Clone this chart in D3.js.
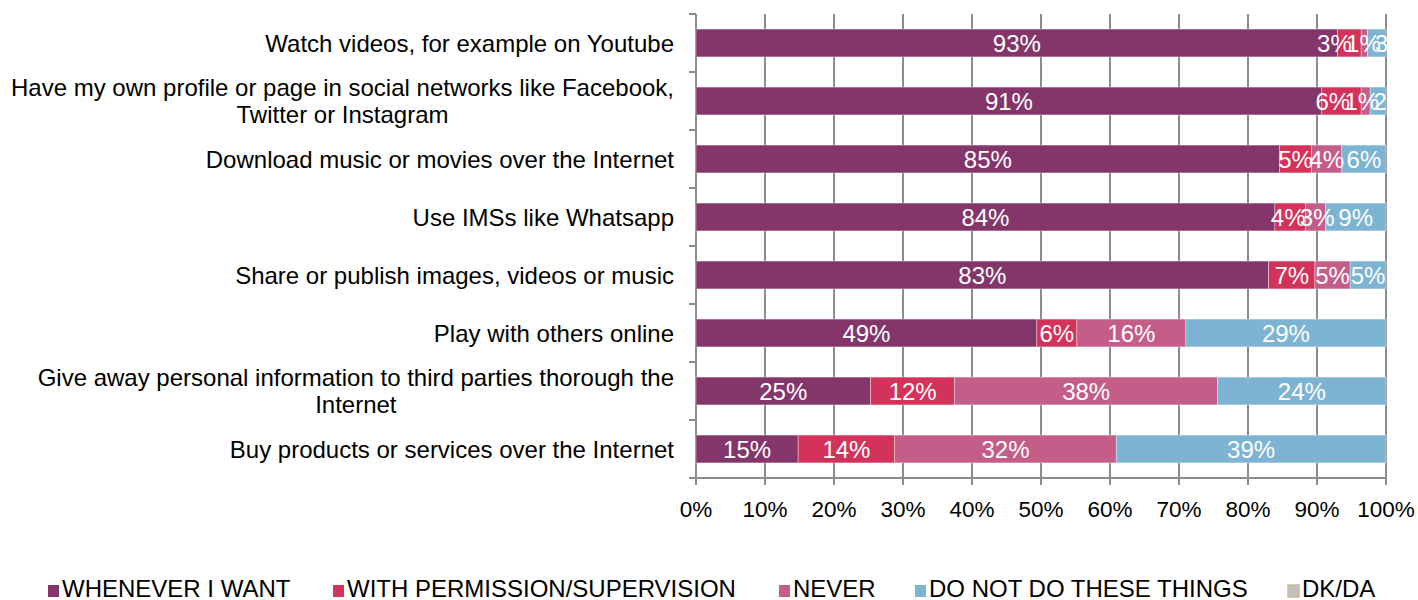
<!DOCTYPE html>
<html><head><meta charset="utf-8">
<script src="https://cdn.jsdelivr.net/npm/d3@7"></script>
<style>body{margin:0;background:#fff}svg{display:block}text{font-family:"Liberation Sans",Arial,sans-serif}</style>
</head><body>
<svg id="c" width="1418" height="600"></svg>
<script>
const categories = [
  "Watch videos, for example on Youtube",
  "Have my own profile or page in social networks like Facebook,|Twitter or Instagram",
  "Download music or movies over the Internet",
  "Use IMSs like Whatsapp",
  "Share or publish images, videos or music",
  "Play with others online",
  "Give away personal information to third parties thorough the|Internet",
  "Buy products or services over the Internet"
];
const seriesNames = ["WHENEVER I WANT","WITH PERMISSION/SUPERVISION","NEVER","DO NOT DO THESE THINGS","DK/DA"];
const seriesColors = ["#84366b","#d3325a","#c45d88","#7db4d4","#c0c0c0"];
const whenever   = [93.0, 90.7, 84.6, 83.9, 83.0, 49.4, 25.3, 14.8];
const permission = [3.4, 5.7, 4.6, 4.4, 6.7, 5.8, 12.2, 14.0];
const never      = [0.9, 1.3, 4.4, 2.9, 5.1, 15.8, 38.1, 32.1];
const notDo      = [2.7, 2.3, 6.4, 8.8, 5.2, 29.0, 24.4, 39.1];
const dkda       = [0, 0, 0, 0, 0, 0, 0, 0];
const xTicks = [0,10,20,30,40,50,60,70,80,90,100];

const svg = d3.select("#c");
const L = 696, R = 1386, T = 14, B = 478;
const x = d3.scaleLinear().domain([0,100]).range([L,R]);
const y = d3.scaleBand().domain(categories).range([T,B]).paddingInner(0.52).paddingOuter(0.26);
const seriesArr = [whenever, permission, never, notDo, dkda];
const rows = categories.map((c,i)=>{const o={cat:c}; seriesNames.forEach((s,j)=>o[s]=seriesArr[j][i]); return o;});
const stacked = d3.stack().keys(seriesNames)(rows);

svg.append("g").selectAll("line").data(xTicks).join("line")
  .attr("x1",d=>x(d)).attr("x2",d=>x(d)).attr("y1",T).attr("y2",B+7)
  .attr("stroke","#8c8c8c").attr("stroke-width",2);
svg.append("line").attr("x1",L).attr("x2",L).attr("y1",T).attr("y2",B+7).attr("stroke","#8c8c8c").attr("stroke-width",2);
svg.append("line").attr("x1",L-7).attr("x2",R).attr("y1",B).attr("y2",B).attr("stroke","#8c8c8c").attr("stroke-width",2);
const bounds = categories.map((c,i)=>T + i*y.step());
svg.append("g").selectAll("line").data(bounds).join("line")
  .attr("x1",L-7).attr("x2",L).attr("y1",d=>d).attr("y2",d=>d).attr("stroke","#8c8c8c").attr("stroke-width",2);

svg.append("clipPath").attr("id","clip").append("rect").attr("x",0).attr("y",0).attr("width",R+1).attr("height",600);

const g = svg.append("g");
stacked.forEach((s,j)=>{
  g.append("g").selectAll("rect").data(s).join("rect")
    .attr("x",d=>x(d[0])).attr("width",d=>x(d[1])-x(d[0]))
    .attr("y",d=>y(d.data.cat)).attr("height",y.bandwidth())
    .attr("fill",seriesColors[j]).attr("stroke","#fff").attr("stroke-width",0.6)
    .attr("stroke-opacity",d=>d[1]-d[0]>0?0.6:0);
});

const lg = svg.append("g").attr("clip-path","url(#clip)");
categories.forEach((c,i)=>{
  const labs = [];
  stacked.forEach(s=>{
    const d = s[i];
    if (d[1]-d[0] > 0.5) labs.push({pos:x((d[0]+d[1])/2), txt:Math.round(d[1]-d[0])+"%"});
  });
  const D = 29;
  for (let it=0; it<200; it++){
    for (let k=0;k<labs.length-1;k++){
      const gap = labs[k+1].pos - labs[k].pos;
      if (gap < D){ const m=(D-gap)/2; labs[k].pos-=m; labs[k+1].pos+=m; }
    }
  }
  lg.append("g").selectAll("text").data(labs).join("text")
    .attr("x",d=>d.pos).attr("y",y(c)+y.bandwidth()/2+9)
    .attr("text-anchor","middle").attr("fill","#fff").attr("font-size",24)
    .text(d=>d.txt);
});

const cl = svg.append("g");
categories.forEach(c=>{
  const lines = c.split("|");
  const t = cl.append("text").attr("font-size",24).attr("fill","#000");
  const cy = y(c)+y.bandwidth()/2;
  const lh = 27;
  lines.forEach((ln,k)=>{
    t.append("tspan").attr("y",cy+8.5+(k-(lines.length-1)/2)*lh).text(ln);
  });
  const spans = t.selectAll("tspan").nodes();
  const w = d3.max(spans,n=>n.getComputedTextLength());
  spans.forEach(n=>{ d3.select(n).attr("x",674 - w/2).attr("text-anchor","middle"); });
});

svg.append("g").selectAll("text").data(xTicks).join("text")
  .attr("x",d=>x(d)).attr("y",517).attr("text-anchor","middle").attr("font-size",22.5).attr("fill","#000")
  .text(d=>d+"%");

const legX = [48,333,779,915,1288];
const leg = svg.append("g");
seriesNames.forEach((s,j)=>{
  leg.append("rect").attr("x",legX[j]).attr("y",585).attr("width",11).attr("height",12)
    .attr("fill",seriesColors[j]).attr("stroke",j===4?"#c8bb96":"none").attr("stroke-width",j===4?1.5:0);
  leg.append("text").attr("x",legX[j]+14).attr("y",597).attr("font-size",24).attr("fill","#000").text(s);
});
</script>
</body></html>
